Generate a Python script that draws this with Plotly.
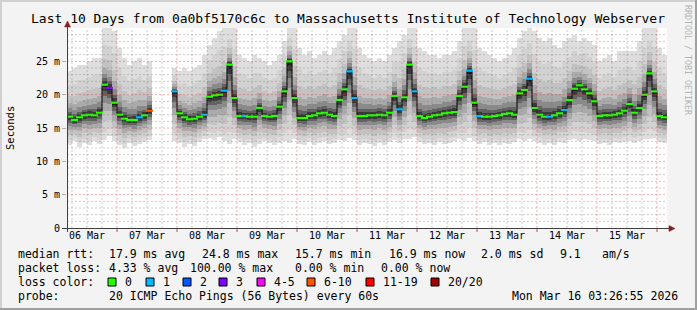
import numpy as np
import pandas as pd
import plotly.graph_objects as go

nan = float("nan")

# ---------------- data (2-hour buckets, Mar 6 04:00 -> Mar 16 04:00) ----------------
bucket_start = "2026-03-06 04:00"
bucket_hours = 2

median_ms = [
    16.7, 16.2, 16.6, 16.9, 17.0, 16.9, 17.3, 21.5, 21.0, 18.8, 17.0, 16.4, 16.2, 16.2, 16.6, 16.9, 17.6,
    nan, nan, nan, nan,
    20.5, 17.2, 16.6, 16.3, 16.4, 16.7, 17.0, 19.7, 19.9, 20.0, 20.6, 24.5, 19.5,
    16.8, 16.8, 16.7, 16.7, 18.0, 16.8, 16.7, 16.8, 18.2, 20.5, 25.0, 19.5,
    16.5, 16.5, 16.8, 16.9, 17.2, 17.3, 17.0, 16.8, 19.2, 20.8, 23.5, 19.5,
    16.8, 16.8, 16.9, 16.9, 17.0, 16.9, 17.3, 19.8, 17.8, 19.6, 24.5, 20.5,
    16.8, 16.5, 16.7, 16.9, 17.0, 17.2, 17.3, 17.4, 19.8, 21.2, 23.6, 18.8,
    16.8, 16.7, 16.7, 16.8, 16.9, 17.1, 17.2, 17.0, 20.2, 20.7, 22.4, 18.0,
    17.0, 16.7, 16.7, 16.9, 17.2, 17.7, 19.2, 20.9, 21.4, 20.8, 20.2, 19.0,
    16.8, 16.9, 16.9, 17.0, 17.2, 17.6, 18.6, 17.3, 18.0, 20.0, 23.2, 20.5, 16.8, 16.6,
]

max_ms = [
    23.5, 24.0, 24.5, 24.5, 25.0, 25.5, 25.5,
    30.0, 30.0, 29.5,
    27.0, 25.5, 24.5, 25.0, 25.5, 24.5, 25.0,
    nan, nan, nan, nan,
    24.0, 23.5, 24.0, 23.5, 24.0, 24.5, 26.0,
    27.5, 28.5, 29.5, 30.0, 30.0, 30.0,
    26.0, 25.5, 25.0, 26.0, 25.5, 25.0, 24.5, 25.0, 26.0,
    28.0, 30.0, 30.0,
    27.0, 26.0, 26.5, 25.5, 26.0, 26.5, 26.0, 27.0,
    28.0, 29.0, 30.0, 30.0,
    27.0, 26.0, 25.5, 25.0, 25.5, 25.0, 26.0,
    27.0, 28.0, 29.0, 30.0, 30.0,
    27.0, 26.5, 26.0, 26.0, 25.5, 26.0, 26.0, 26.5,
    28.0, 30.0, 30.0, 30.0,
    27.0, 26.5, 26.0, 25.5, 25.0, 25.5, 26.0, 27.0,
    28.5, 29.5, 30.0, 29.5,
    28.5, 28.0, 28.5, 27.5, 27.0, 28.0, 28.5, 29.0, 28.0, 28.5, 28.0, 27.5,
    25.0, 25.5, 26.0, 25.0, 26.5, 26.5, 26.5, 26.5,
    28.0, 30.0, 30.0, 30.0,
    27.0, 26.0,
]

min_ms = [
    12.5, 13.0, 12.2, 12.8, 12.4, 13.0, 12.6, 13.2, 13.8, 13.0, 12.4, 12.0, 12.8, 12.3, 12.6, 12.9, 13.2,
    nan, nan, nan, nan,
    13.0, 12.7, 12.2, 12.6, 12.3, 12.9, 13.3, 13.5, 13.2, 13.6, 13.0, 12.6, 13.4,
    12.9, 12.5, 12.8, 12.2, 12.6, 13.0, 12.7, 12.4, 12.8, 13.1, 12.8, 13.3, 12.6, 12.4, 12.9, 12.5,
    12.8, 13.0, 12.6, 12.8, 13.2, 13.0, 13.5, 13.2,
    12.5, 12.8, 12.6, 12.3, 12.7, 12.4, 12.9, 13.2, 12.8, 13.4, 13.3, 13.6, 12.9, 12.6, 12.8, 12.5,
    12.9, 12.6, 12.8, 13.0, 13.3, 13.1, 13.5, 13.0,
    12.6, 12.9, 12.4, 12.7, 12.5, 12.8, 12.6, 12.9, 13.3, 13.1, 13.4, 13.0, 12.8, 12.5, 12.7, 12.4,
    12.9, 12.8, 13.2, 13.4, 13.1, 13.3, 13.2, 13.0,
    12.6, 12.8, 12.5, 12.9, 12.7, 12.9, 13.1, 12.8, 13.0, 13.4, 13.3, 13.5, 12.9, 12.7,
]

loss_count = [0] * 120
for idx, v in [(8, 3), (14, 1), (16, 7), (17, 20), (18, 20), (19, 20), (20, 20), (21, 1),
               (27, 1), (31, 1), (35, 1), (56, 1), (57, 1), (66, 1), (69, 1), (80, 1),
               (82, 1), (92, 1), (96, 1), (99, 1)]:
    loss_count[idx] = v

day_labels = ["06 Mar", "07 Mar", "08 Mar", "09 Mar", "10 Mar",
              "11 Mar", "12 Mar", "13 Mar", "14 Mar", "15 Mar"]
ytick_vals = [0, 5, 10, 15, 20, 25]
ytick_text = ["0", "5 m", "10 m", "15 m", "20 m", "25 m"]

loss_legend = ["0", "1", "2", "3", "4-5", "6-10", "11-19", "20/20"]
loss_colors = ["#26ff00", "#00b8ff", "#0059ff", "#7e00ff", "#ff00ff", "#ff5500", "#ff0000", "#a10000"]

stats_rtt = ["median rtt:", "17.9 ms avg", "24.8 ms max", "15.7 ms min", "16.9 ms now", "2.0 ms sd", "9.1", "am/s"]
stats_loss = ["packet loss:", "4.33 % avg", "100.00 % max", "0.00 % min", "0.00 % now"]
probe_text = ["probe:", "20 ICMP Echo Pings (56 Bytes) every 60s", "Mon Mar 16 03:26:55 2026"]
title_text = "Last 10 Days from 0a0bf5170c6c to Massachusetts Institute of Technology Webserver"

# ---------------- figure ----------------
W, H = 697, 310
L, R, T, B = 67, 30, 28, 82
PW, PH = W - L - R, H - T - B
FONT = "DejaVu Sans Mono"


def px(x):
    return (x - L) / PW


def py(y):
    return (T + PH - y) / PH


n = len(median_ms)
t0 = pd.Timestamp(bucket_start)
centers = [t0 + pd.Timedelta(hours=bucket_hours * i + bucket_hours / 2) for i in range(n)]
bar_w = bucket_hours * 3600 * 1000 * 1.02

med = np.array(median_ms, dtype=float)
hi = np.array(max_ms, dtype=float)
lo = np.array(min_ms, dtype=float)

# smoke shading: outer (light) to inner (dark) rank bands
layers = [
    ("#dedede", 1.00, 1.00),
    ("#d2d2d2", 0.70, 0.85),
    ("#c2c2c2", 0.46, 0.66),
    ("#aaaaaa", 0.30, 0.48),
    ("#8a8a8a", 0.19, 0.33),
    ("#626262", 0.11, 0.21),
    ("#3a3a3a", 0.06, 0.12),
    ("#1e1e1e", 0.025, 0.05),
]

fig = go.Figure()
for color, fu, fl in layers:
    base = med - fl * (med - lo)
    top = med + fu * (hi - med)
    fig.add_trace(go.Bar(
        x=centers, y=top - base, base=base, width=bar_w,
        marker=dict(color=color, line=dict(width=0)),
        hoverinfo="skip", showlegend=False,
    ))

# dark step connector of the median
fig.add_trace(go.Scatter(
    x=centers, y=med, mode="lines",
    line=dict(color="#141414", width=1.2, shape="hvh"),
    connectgaps=False, hoverinfo="skip", showlegend=False,
))


def loss_color(c):
    if c == 0:
        return loss_colors[0]
    if c == 1:
        return loss_colors[1]
    if c == 2:
        return loss_colors[2]
    if c == 3:
        return loss_colors[3]
    if c <= 5:
        return loss_colors[4]
    if c <= 10:
        return loss_colors[5]
    if c <= 19:
        return loss_colors[6]
    return loss_colors[7]


ok = [i for i in range(n) if not np.isnan(med[i])]
fig.add_trace(go.Scatter(
    x=[centers[i] for i in ok], y=[med[i] for i in ok], mode="markers",
    marker=dict(symbol="line-ew", size=5,
                line=dict(width=2.2, color=[loss_color(loss_count[i]) for i in ok])),
    hoverinfo="skip", showlegend=False,
))

noon = [pd.Timestamp("2026-03-06 12:00") + pd.Timedelta(days=d) for d in range(len(day_labels))]
x_end = t0 + pd.Timedelta(days=10)

fig.update_layout(
    width=W, height=H,
    margin=dict(l=L, r=R, t=T, b=B, pad=0),
    paper_bgcolor="#f3f3f3", plot_bgcolor="#ffffff",
    barmode="overlay", bargap=0,
    font=dict(family=FONT, size=10, color="#000000"),
    xaxis=dict(
        type="date", range=[t0, x_end], showgrid=False, zeroline=False, showline=False,
        tickmode="array", tickvals=noon, ticktext=day_labels, ticks="",
        tickfont=dict(family=FONT, size=10, color="#000000"), fixedrange=True,
    ),
    yaxis=dict(
        range=[0, 30], showgrid=False, zeroline=False, showline=False,
        tickmode="array", tickvals=ytick_vals, ticktext=ytick_text,
        ticks="outside", ticklen=4, tickcolor="#b0b0b0",
        tickfont=dict(family=FONT, size=10, color="#000000"), fixedrange=True,
    ),
)

shapes = []
GREY = "rgba(130,130,130,0.42)"
RED = "rgba(235,60,60,0.42)"
for m in range(1, 30):
    shapes.append(dict(type="line", xref="paper", yref="y", x0=0, x1=1, y0=m, y1=m,
                       line=dict(color=RED if m % 5 == 0 else GREY, width=1, dash="2px,2px"),
                       layer="above"))
t6 = pd.Timestamp("2026-03-06 06:00")
while t6 < x_end:
    is_mid = t6.hour == 0
    shapes.append(dict(type="line", xref="x", yref="paper", x0=t6, x1=t6, y0=0, y1=1,
                       line=dict(color=RED if is_mid else GREY, width=1, dash="2px,2px"),
                       layer="above"))
    if is_mid:
        shapes.append(dict(type="line", xref="x", yref="paper", x0=t6, x1=t6,
                           y0=py(228), y1=py(232), line=dict(color="#d04040", width=1)))
    t6 += pd.Timedelta(hours=6)

AX = "#404040"
ARR = "#7f1f1f"
shapes.append(dict(type="line", xref="paper", yref="paper", x0=px(62), x1=px(670), y0=py(228.5), y1=py(228.5),
                   line=dict(color=AX, width=1), layer="above"))
shapes.append(dict(type="line", xref="paper", yref="paper", x0=px(67.5), x1=px(67.5), y0=py(232), y1=py(24),
                   line=dict(color=AX, width=1), layer="above"))
shapes.append(dict(type="path", xref="paper", yref="paper",
                   path=f"M {px(669)} {py(225.5)} L {px(675)} {py(228.5)} L {px(669)} {py(231.5)} Z",
                   fillcolor=ARR, line=dict(color=ARR, width=0.5), layer="above"))
shapes.append(dict(type="path", xref="paper", yref="paper",
                   path=f"M {px(64.5)} {py(27)} L {px(67.5)} {py(21)} L {px(70.5)} {py(27)} Z",
                   fillcolor=ARR, line=dict(color=ARR, width=0.5), layer="above"))

shapes.append(dict(type="rect", xref="paper", yref="paper", x0=px(0), x1=px(2), y0=py(310), y1=py(0),
                   fillcolor="#d0d0d0", line=dict(width=0), layer="below"))
shapes.append(dict(type="rect", xref="paper", yref="paper", x0=px(0), x1=px(697), y0=py(2), y1=py(0),
                   fillcolor="#d0d0d0", line=dict(width=0), layer="below"))
shapes.append(dict(type="rect", xref="paper", yref="paper", x0=px(695), x1=px(697), y0=py(310), y1=py(0),
                   fillcolor="#a0a0a0", line=dict(width=0), layer="below"))
shapes.append(dict(type="rect", xref="paper", yref="paper", x0=px(0), x1=px(697), y0=py(310), y1=py(308),
                   fillcolor="#a0a0a0", line=dict(width=0), layer="below"))

box_x = [108, 146, 183, 219, 257, 307, 366, 431]
for bx, col in zip(box_x, loss_colors):
    shapes.append(dict(type="rect", xref="paper", yref="paper",
                       x0=px(bx), x1=px(bx + 8), y0=py(286), y1=py(278),
                       fillcolor=col, line=dict(color="#000000", width=1)))

fig.update_layout(shapes=shapes)

ann = []


def text(x, y, s, size=11.5, anchor="left", color="#000000", angle=0):
    ann.append(dict(xref="paper", yref="paper", x=px(x), y=py(y), text=s, showarrow=False,
                    xanchor=anchor, yanchor="middle", textangle=angle,
                    font=dict(family=FONT, size=size, color=color)))


text(348, 18.5, title_text, size=13, anchor="center")
text(10, 128, "Seconds", size=10.5, anchor="center", angle=-90)
text(688, 60, "RRDTOOL / TOBI OETIKER", size=8.3, anchor="center", color="#b4b4b4", angle=90)

rtt_x = [16, 107, 200, 293, 387, 479, 558, 600]
for xx, s in zip(rtt_x, stats_rtt):
    text(xx, 254, s)
loss_x = [16, 107, 188, 293, 379]
for xx, s in zip(loss_x, stats_loss):
    text(xx, 268, s)
text(16, 282, "loss color:")
for bx, s in zip(box_x, loss_legend):
    text(bx + 15, 282, s)
text(16, 296, probe_text[0])
text(107, 296, probe_text[1])
text(680, 296, probe_text[2], anchor="right")

fig.update_layout(annotations=ann)
fig.write_html("out.html")
